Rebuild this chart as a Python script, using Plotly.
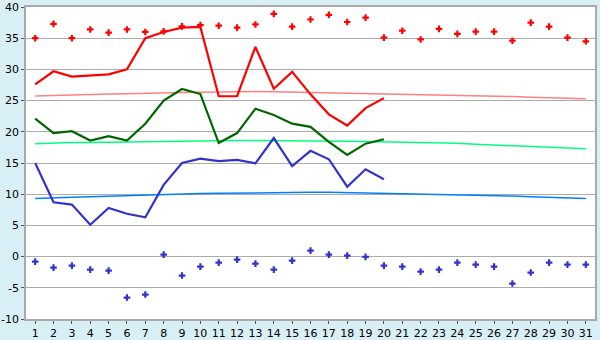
import plotly.graph_objects as go

days = list(range(1, 32))
tick_labels = [str(d) for d in days]
y_ticks = [-10, -5, 0, 5, 10, 15, 20, 25, 30, 35, 40]
y_tick_labels = ["-10", "-5", "0", "5", "10", "15", "20", "25", "30", "35", "40"]

record_max = [35.0, 37.3, 35.0, 36.4, 35.9, 36.4, 36.0, 36.1, 36.9, 37.1, 37.0, 36.7, 37.2, 38.9,
              36.85, 38.0, 38.75, 37.6, 38.3, 35.1, 36.2, 34.8, 36.5, 35.7, 36.05, 36.05, 34.6,
              37.5, 36.85, 35.1, 34.5]
record_min = [-0.8, -1.76, -1.44, -2.08, -2.24, -6.56, -6.08, 0.32, -3.04, -1.6, -0.96, -0.48,
              -1.12, -2.08, -0.64, 0.96, 0.32, 0.16, -0.05, -1.44, -1.6, -2.4, -2.08, -0.96,
              -1.28, -1.6, -4.32, -2.56, -0.96, -1.28, -1.28]

days_obs = list(range(1, 21))
max_temp = [27.6, 29.7, 28.85, 29.0, 29.2, 30.0, 35.0, 36.0, 36.7, 36.8, 25.7, 25.7, 33.6, 26.9,
            29.6, 26.0, 22.8, 21.0, 23.8, 25.4]
mean_temp = [22.1, 19.8, 20.1, 18.6, 19.3, 18.6, 21.3, 25.0, 26.85, 26.05, 18.2, 19.8, 23.7,
             22.7, 21.3, 20.8, 18.4, 16.3, 18.1, 18.8]
min_temp = [15.0, 8.7, 8.33, 5.1, 7.8, 6.86, 6.3, 11.5, 15.0, 15.7, 15.3, 15.5, 14.95, 19.0,
            14.5, 16.95, 15.6, 11.2, 14.0, 12.4]

normal_max = [25.75, 25.85, 25.95, 26.0, 26.05, 26.1, 26.2, 26.25, 26.3, 26.35, 26.4, 26.45,
              26.45, 26.4, 26.35, 26.3, 26.25, 26.2, 26.15, 26.1, 26.05, 26.0, 25.9, 25.85,
              25.8, 25.7, 25.65, 25.55, 25.45, 25.35, 25.3]
normal_mean = [18.1, 18.25, 18.3, 18.3, 18.35, 18.4, 18.45, 18.5, 18.55, 18.6, 18.6, 18.6, 18.6,
               18.6, 18.55, 18.55, 18.5, 18.5, 18.45, 18.4, 18.35, 18.25, 18.2, 18.15, 18.0,
               17.9, 17.8, 17.65, 17.5, 17.4, 17.3]
normal_min = [9.3, 9.45, 9.5, 9.6, 9.7, 9.8, 9.9, 9.95, 10.0, 10.1, 10.15, 10.2, 10.25, 10.3,
              10.3, 10.3, 10.3, 10.25, 10.2, 10.15, 10.1, 10.05, 9.95, 9.9, 9.85, 9.8, 9.7, 9.6,
              9.5, 9.4, 9.3]

fig = go.Figure()
fig.add_trace(go.Scatter(x=days, y=normal_max, mode="lines", line=dict(color="#ff8080", width=1.5)))
fig.add_trace(go.Scatter(x=days, y=normal_mean, mode="lines", line=dict(color="#00ff80", width=1.5)))
fig.add_trace(go.Scatter(x=days, y=normal_min, mode="lines", line=dict(color="#0080ff", width=1.5)))
fig.add_trace(go.Scatter(x=days_obs, y=max_temp, mode="lines", line=dict(color="#ff0000", width=2.2)))
fig.add_trace(go.Scatter(x=days_obs, y=mean_temp, mode="lines", line=dict(color="#006600", width=2.2)))
fig.add_trace(go.Scatter(x=days_obs, y=min_temp, mode="lines", line=dict(color="#3333cc", width=2.2)))
fig.add_trace(go.Scatter(x=days, y=record_max, mode="markers",
                         marker=dict(symbol="cross", size=5.5, color="#ff0000", line=dict(width=0))))
fig.add_trace(go.Scatter(x=days, y=record_min, mode="markers",
                         marker=dict(symbol="cross", size=5.5, color="#3333cc", line=dict(width=0))))

fig.update_layout(
    width=600, height=340,
    margin=dict(l=26, r=5, t=7, b=21, autoexpand=False),
    paper_bgcolor="#d9eff6", plot_bgcolor="#ffffff",
    showlegend=False,
    font=dict(family="DejaVu Sans", size=11, color="#000000"),
)
fig.update_xaxes(range=[0.5, 31.5], tickmode="array", tickvals=days, ticktext=tick_labels,
                 automargin=False,
                 showgrid=False, zeroline=False, showline=True, linecolor="#a9a9a9", linewidth=1.5,
                 mirror=True, ticks="outside", ticklen=3, tickcolor="#555555", tickwidth=1)
fig.update_yaxes(range=[-10, 40], tickmode="array", tickvals=y_ticks, ticktext=y_tick_labels,
                 automargin=False,
                 showgrid=True, gridcolor="#acacac", gridwidth=1,
                 zeroline=False, showline=True, linecolor="#a9a9a9", linewidth=1.5, mirror=True,
                 ticks="outside", ticklen=3, tickcolor="#555555", tickwidth=1)

fig.write_html("out.html")
